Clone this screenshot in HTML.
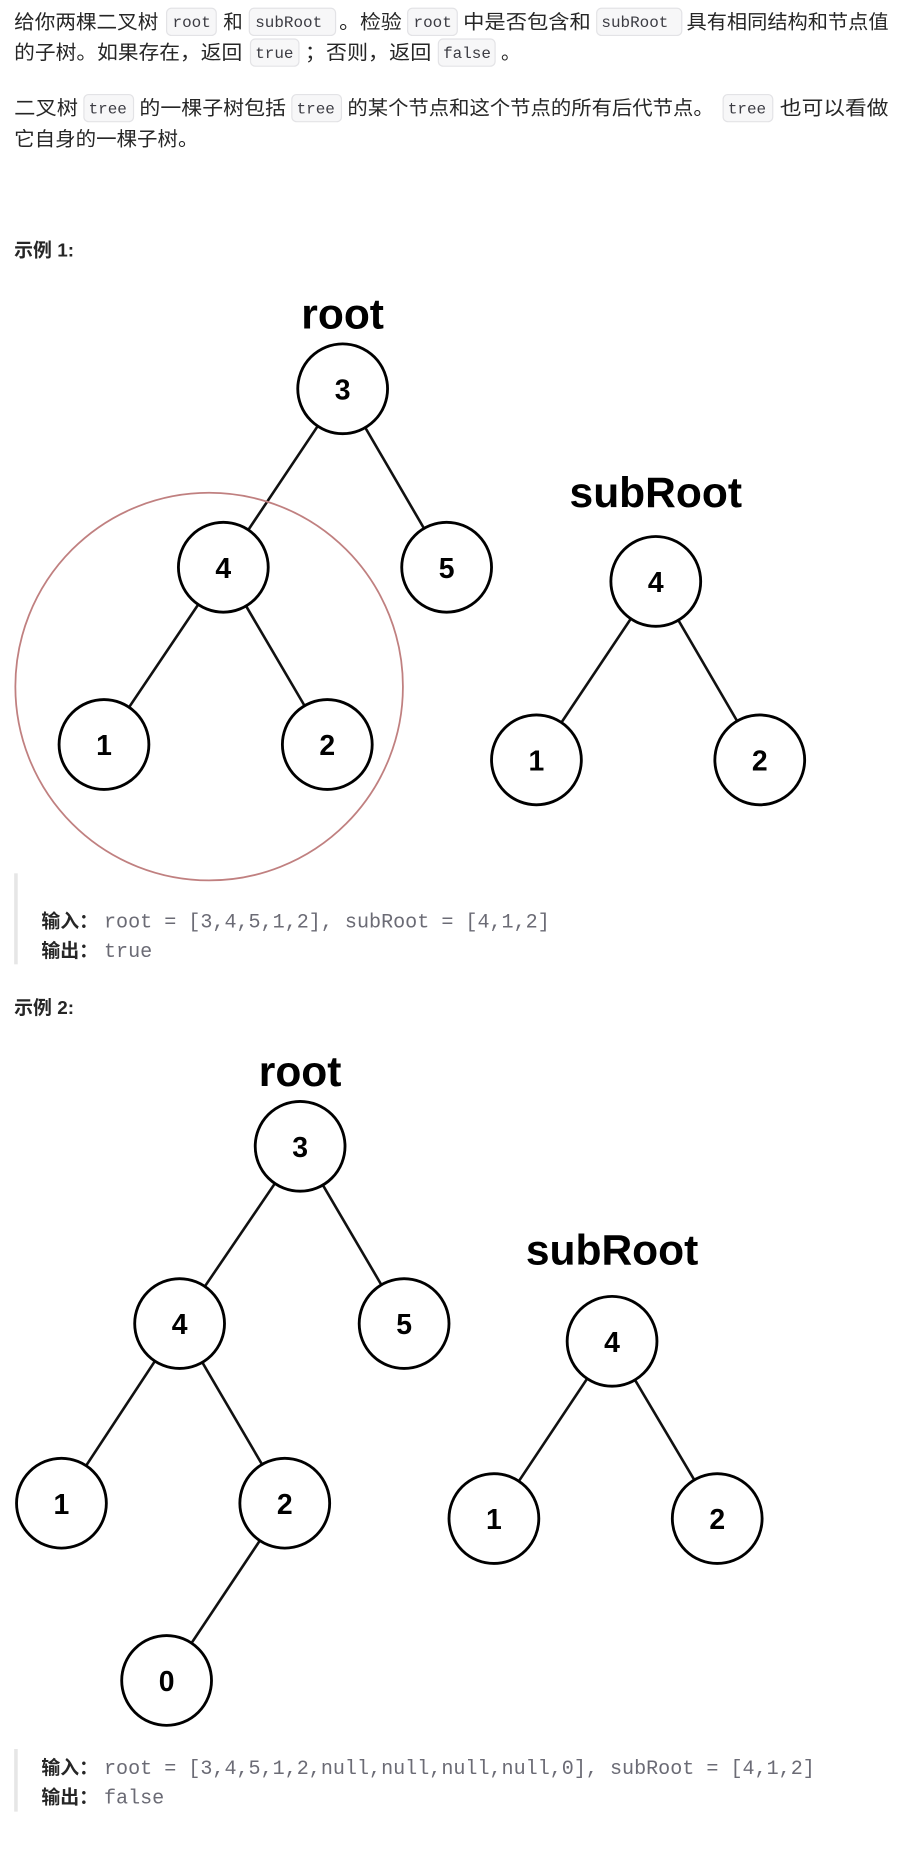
<!DOCTYPE html>
<html><head><meta charset="utf-8"><style>
html,body{margin:0;padding:0;background:#fff;}
svg{display:block;}
.t{font-family:"Liberation Sans","Noto Sans CJK SC",sans-serif;font-size:16.5px;fill:#262626;}
.c{font-family:"Liberation Mono","DejaVu Sans Mono",monospace;font-size:13.5px;fill:#3c3c43;}
.cb{fill:#f7f7f8;stroke:#e3e3e6;stroke-width:1;}
.b{font-family:"Liberation Sans","Noto Sans CJK SC",sans-serif;font-size:16px;font-weight:bold;fill:#262626;}
.o{font-family:"Liberation Mono","DejaVu Sans Mono",monospace;font-size:17px;fill:#6b6b75;}
.n{font-family:"Liberation Sans",sans-serif;font-size:24px;font-weight:bold;fill:#000;text-anchor:middle;}
.h{font-family:"Liberation Sans",sans-serif;font-size:36px;font-weight:bold;fill:#000;text-anchor:middle;}
.e{stroke:#111;stroke-width:2.2;}
.nd{fill:#fff;stroke:#000;stroke-width:2.4;}
</style></head><body>
<svg width="911" height="1866" viewBox="0 0 771 1579" preserveAspectRatio="none" xmlns="http://www.w3.org/2000/svg">
<!-- paragraph 1 -->
<text class="t" x="12" y="24" textLength="122" lengthAdjust="spacingAndGlyphs">给你两棵二叉树</text>
<rect class="cb" x="141" y="7" width="42" height="23" rx="4"/><text class="c" x="146" y="23">root</text>
<text class="t" x="189" y="24">和</text>
<rect class="cb" x="211" y="7" width="73" height="23" rx="4"/><text class="c" x="216" y="23">subRoot</text>
<text class="t" x="287" y="24" textLength="53" lengthAdjust="spacingAndGlyphs">。检验</text>
<rect class="cb" x="345" y="7" width="42" height="23" rx="4"/><text class="c" x="350" y="23">root</text>
<text class="t" x="392" y="24" textLength="108" lengthAdjust="spacingAndGlyphs">中是否包含和</text>
<rect class="cb" x="505" y="7" width="72" height="23" rx="4"/><text class="c" x="509" y="23">subRoot</text>
<text class="t" x="581" y="24" textLength="171" lengthAdjust="spacingAndGlyphs">具有相同结构和节点值</text>
<text class="t" x="12" y="50" textLength="193" lengthAdjust="spacingAndGlyphs">的子树。如果存在，返回</text>
<rect class="cb" x="212" y="33" width="41" height="23" rx="4"/><text class="c" x="216" y="49">true</text>
<text class="t" x="258" y="50" textLength="107" lengthAdjust="spacingAndGlyphs">；否则，返回</text>
<rect class="cb" x="371" y="33" width="48" height="23" rx="4"/><text class="c" x="375" y="49">false</text>
<text class="t" x="424" y="50">。</text>
<!-- paragraph 2 -->
<text class="t" x="12" y="97" textLength="54" lengthAdjust="spacingAndGlyphs">二叉树</text>
<rect class="cb" x="71" y="80" width="42" height="23" rx="4"/><text class="c" x="75" y="96">tree</text>
<text class="t" x="118" y="97" textLength="124" lengthAdjust="spacingAndGlyphs">的一棵子树包括</text>
<rect class="cb" x="247" y="80" width="42" height="23" rx="4"/><text class="c" x="251" y="96">tree</text>
<text class="t" x="294" y="97" textLength="310" lengthAdjust="spacingAndGlyphs">的某个节点和这个节点的所有后代节点。</text>
<rect class="cb" x="612" y="80" width="42" height="23" rx="4"/><text class="c" x="616" y="96">tree</text>
<text class="t" x="660" y="97" textLength="92" lengthAdjust="spacingAndGlyphs">也可以看做</text>
<text class="t" x="12" y="123" textLength="156" lengthAdjust="spacingAndGlyphs">它自身的一棵子树。</text>
<text class="b" x="12" y="217">示例 1:</text>

<!-- tree 1 -->
<text class="h" x="290" y="278">root</text>
<line class="e" x1="290" y1="329" x2="189" y2="480"/>
<line class="e" x1="290" y1="329" x2="378" y2="480"/>
<line class="e" x1="189" y1="480" x2="88" y2="630"/>
<line class="e" x1="189" y1="480" x2="277" y2="630"/>
<circle class="nd" cx="290" cy="329" r="38"/><text class="n" x="290" y="338">3</text>
<circle class="nd" cx="189" cy="480" r="38"/><text class="n" x="189" y="489">4</text>
<circle class="nd" cx="378" cy="480" r="38"/><text class="n" x="378" y="489">5</text>
<circle class="nd" cx="88" cy="630" r="38"/><text class="n" x="88" y="639">1</text>
<circle class="nd" cx="277" cy="630" r="38"/><text class="n" x="277" y="639">2</text>
<circle cx="177" cy="581" r="164" fill="none" stroke="#c08080" stroke-width="1.5"/>
<text class="h" x="555" y="429">subRoot</text>
<line class="e" x1="555" y1="492" x2="454" y2="643"/>
<line class="e" x1="555" y1="492" x2="643" y2="643"/>
<circle class="nd" cx="555" cy="492" r="38"/><text class="n" x="555" y="501">4</text>
<circle class="nd" cx="454" cy="643" r="38"/><text class="n" x="454" y="652">1</text>
<circle class="nd" cx="643" cy="643" r="38"/><text class="n" x="643" y="652">2</text>

<rect x="12" y="739" width="3" height="77" fill="#e6e6e6"/>
<text class="b" x="35" y="785">输入：</text><text class="o" x="88" y="785">root = [3,4,5,1,2], subRoot = [4,1,2]</text>
<text class="b" x="35" y="810">输出：</text><text class="o" x="88" y="810">true</text>
<text class="b" x="12" y="858">示例 2:</text>

<!-- tree 2 -->
<text class="h" x="254" y="919">root</text>
<line class="e" x1="254" y1="970" x2="152" y2="1120"/>
<line class="e" x1="254" y1="970" x2="342" y2="1120"/>
<line class="e" x1="152" y1="1120" x2="52" y2="1272"/>
<line class="e" x1="152" y1="1120" x2="241" y2="1272"/>
<line class="e" x1="241" y1="1272" x2="141" y2="1422"/>
<circle class="nd" cx="254" cy="970" r="38"/><text class="n" x="254" y="979">3</text>
<circle class="nd" cx="152" cy="1120" r="38"/><text class="n" x="152" y="1129">4</text>
<circle class="nd" cx="342" cy="1120" r="38"/><text class="n" x="342" y="1129">5</text>
<circle class="nd" cx="52" cy="1272" r="38"/><text class="n" x="52" y="1281">1</text>
<circle class="nd" cx="241" cy="1272" r="38"/><text class="n" x="241" y="1281">2</text>
<circle class="nd" cx="141" cy="1422" r="38"/><text class="n" x="141" y="1431">0</text>
<text class="h" x="518" y="1070">subRoot</text>
<line class="e" x1="518" y1="1135" x2="418" y2="1285"/>
<line class="e" x1="518" y1="1135" x2="607" y2="1285"/>
<circle class="nd" cx="518" cy="1135" r="38"/><text class="n" x="518" y="1144">4</text>
<circle class="nd" cx="418" cy="1285" r="38"/><text class="n" x="418" y="1294">1</text>
<circle class="nd" cx="607" cy="1285" r="38"/><text class="n" x="607" y="1294">2</text>

<rect x="12" y="1480" width="3" height="53" fill="#e6e6e6"/>
<text class="b" x="35" y="1501">输入：</text><text class="o" x="88" y="1501">root = [3,4,5,1,2,null,null,null,null,0], subRoot = [4,1,2]</text>
<text class="b" x="35" y="1526">输出：</text><text class="o" x="88" y="1526">false</text>
</svg>
</body></html>
